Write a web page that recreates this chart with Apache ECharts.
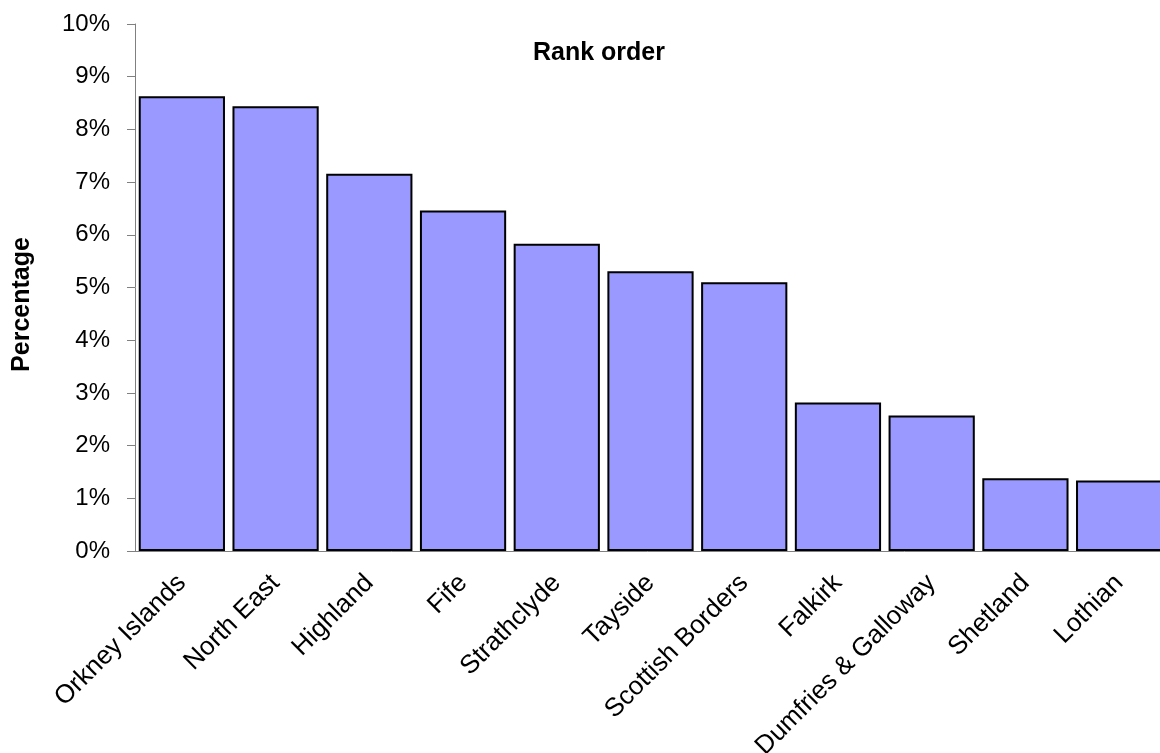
<!DOCTYPE html>
<html>
<head>
<meta charset="utf-8">
<script src="https://cdn.jsdelivr.net/npm/echarts@6/dist/echarts.min.js"></script>
<style>
  html, body { margin: 0; padding: 0; background: #fff; }
  #chart { width: 1160px; height: 753px; }
</style>
</head>
<body>
<div id="chart"></div>
<script>
const regions = [
  "Orkney Islands", "North East", "Highland", "Fife", "Strathclyde", "Tayside",
  "Scottish Borders", "Falkirk", "Dumfries & Galloway", "Shetland", "Lothian",
];
const percentages = [8.63, 8.44, 7.16, 6.46, 5.83, 5.31, 5.10, 2.82, 2.57, 1.38, 1.34];

const font = "'Liberation Sans', Arial, sans-serif";
const chart = echarts.init(document.getElementById("chart"));

chart.setOption({
  animation: false,
  title: {
    text: "Rank order",
    left: 594,
    top: 36,
    textAlign: "center",
    textStyle: { fontFamily: font, fontSize: 25, fontWeight: "bold", color: "#000" },
  },
  grid: { left: 135, top: 24, width: 1031, height: 527, outerBoundsMode: "none" },
  xAxis: {
    type: "category",
    data: regions,
    axisLine: { lineStyle: { color: "#808080", width: 1 } },
    axisTick: { length: 8, lineStyle: { color: "#808080" } },
    axisLabel: {
      rotate: 45,
      margin: 28,
      interval: 0,
      color: "#000",
      fontFamily: font,
      fontSize: 26,
    },
  },
  yAxis: {
    type: "value",
    min: 0,
    max: 10,
    interval: 1,
    name: "Percentage",
    nameLocation: "middle",
    nameGap: 100,
    nameRotate: 90,
    nameTextStyle: {
      fontFamily: font,
      fontSize: 25,
      fontWeight: "bold",
      color: "#000",
      padding: [0, 34, 0, 0],
    },
    axisLine: { show: true, lineStyle: { color: "#808080", width: 1 } },
    axisTick: { show: true, length: 8, lineStyle: { color: "#808080" } },
    splitLine: { show: false },
    axisLabel: {
      margin: 25,
      color: "#000",
      fontFamily: font,
      fontSize: 24,
      formatter: (v) => v + "%",
    },
  },
  series: [
    {
      type: "bar",
      data: percentages,
      barCategoryGap: "8%",
      itemStyle: { color: "#9999ff", borderColor: "#000", borderWidth: 2 },
    },
  ],
});
</script>
</body>
</html>
